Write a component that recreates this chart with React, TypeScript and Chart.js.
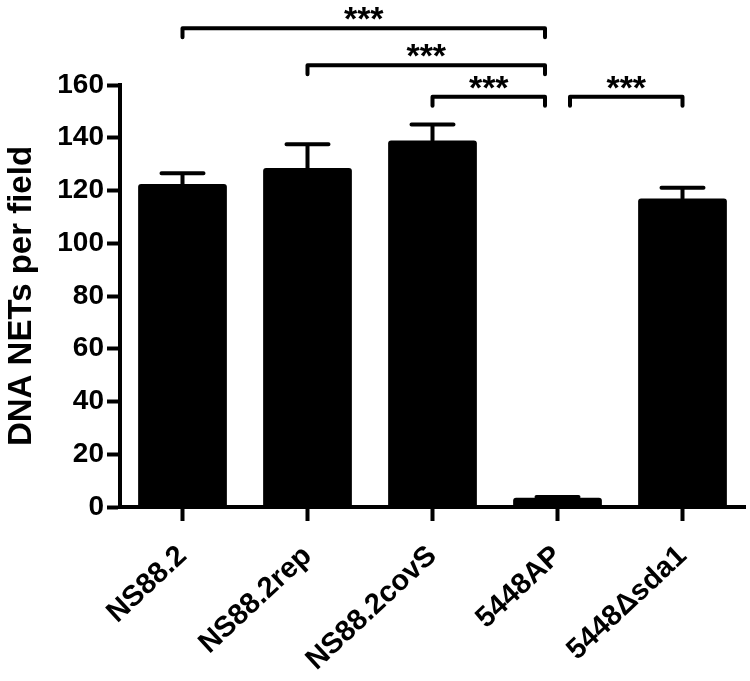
import React, { useEffect, useRef } from "react";
import { Chart, registerables } from "chart.js";

Chart.register(...registerables);

// ---- data ----
const categories = ["NS88.2", "NS88.2rep", "NS88.2covS", "5448AP", "5448\u0394sda1"];
const means = [122.5, 128.5, 139, 3.5, 117];
const errors = [4, 9, 6, 0.3, 4];
const yMin = 0;
const yMax = 160;
const yStep = 20;
const yTitle = "DNA NETs per field";

// significance brackets (category index from -> to, level in y units)
const bracketFrom = [0, 1, 2, 3];
const bracketTo = [3, 3, 3, 4];
const bracketLevel = [181.5, 167.5, 155.5, 155.5];
const bracketLabels = ["***", "***", "***", "***"];
const referenceGroup = 3; // comparison group (5448AP)

const FONT = "'Liberation Sans', Arial, Helvetica, sans-serif";

const errorBarPlugin = {
  id: "errorBars",
  afterDatasetsDraw(chart: any) {
    const ctx = chart.ctx;
    const meta = chart.getDatasetMeta(0);
    const yScale = chart.scales.y;
    ctx.save();
    ctx.strokeStyle = "#000";
    ctx.lineWidth = 4;
    ctx.lineCap = "round";
    meta.data.forEach((el: any, i: number) => {
      const x = el.x;
      const yBar = yScale.getPixelForValue(means[i]);
      const yTop = yScale.getPixelForValue(means[i] + errors[i]);
      ctx.beginPath();
      ctx.moveTo(x, yBar);
      ctx.lineTo(x, yTop);
      ctx.moveTo(x - 21, yTop);
      ctx.lineTo(x + 21, yTop);
      ctx.stroke();
    });
    ctx.restore();
  },
};

const bracketPlugin = {
  id: "brackets",
  afterDraw(chart: any) {
    const ctx = chart.ctx;
    const xScale = chart.scales.x;
    const yScale = chart.scales.y;
    const slot = xScale.getPixelForValue(1) - xScale.getPixelForValue(0);
    const inset = slot * 0.1;
    ctx.save();
    ctx.strokeStyle = "#000";
    ctx.fillStyle = "#000";
    ctx.lineWidth = 4;
    ctx.lineJoin = "round";
    ctx.lineCap = "round";
    for (let i = 0; i < bracketFrom.length; i++) {
      let x1 = xScale.getPixelForValue(bracketFrom[i]);
      let x2 = xScale.getPixelForValue(bracketTo[i]);
      if (bracketFrom[i] === referenceGroup) x1 += inset;
      if (bracketTo[i] === referenceGroup) x2 -= inset;
      const y = yScale.getPixelForValue(bracketLevel[i]);
      ctx.beginPath();
      ctx.moveTo(x1, y + 9);
      ctx.lineTo(x1, y);
      ctx.lineTo(x2, y);
      ctx.lineTo(x2, y + 9);
      ctx.stroke();
      ctx.font = `bold 34px ${FONT}`;
      ctx.textAlign = "center";
      ctx.textBaseline = "alphabetic";
      ctx.fillText(bracketLabels[i], (x1 + x2) / 2, y + 2);
    }
    ctx.restore();
  },
};

export default function App() {
  const ref = useRef<HTMLCanvasElement | null>(null);
  useEffect(() => {
    if (!ref.current) return;
    Chart.defaults.font.family = FONT;
    Chart.defaults.color = "#000";
    const chart = new Chart(ref.current, {
      type: "bar",
      data: {
        labels: categories,
        datasets: [
          {
            data: means,
            backgroundColor: "#000",
            borderWidth: 0,
            borderRadius: 3,
            borderSkipped: "bottom",
            barPercentage: 0.71,
            categoryPercentage: 1,
          },
        ],
      },
      options: {
        animation: false,
        responsive: false,
        maintainAspectRatio: false,
        layout: { padding: { top: 85, right: 5, left: 0, bottom: 0 } },
        plugins: {
          legend: { display: false },
          tooltip: { enabled: false },
        },
        scales: {
          x: {
            offset: true,
            grid: {
              offset: false,
              drawOnChartArea: false,
              drawTicks: true,
              tickLength: 14,
              tickWidth: 4,
              color: "#000",
            },
            border: { display: true, width: 4, color: "#000" },
            ticks: {
              minRotation: 43,
              maxRotation: 43,
              padding: 18,
              font: { size: 29, weight: "bold" },
              color: "#000",
            },
            afterFit(scale: any) {
              scale.height = 681 - 507;
            },
          },
          y: {
            min: yMin,
            max: yMax,
            grid: {
              drawOnChartArea: false,
              drawTicks: true,
              tickLength: 13,
              tickWidth: 4,
              color: "#000",
            },
            border: { display: true, width: 4, color: "#000" },
            ticks: {
              stepSize: yStep,
              padding: 3,
              font: { size: 28, weight: "bold" },
              color: "#000",
            },
            title: {
              display: true,
              text: yTitle,
              font: { size: 33, weight: "bold" },
              color: "#000",
              padding: { top: 2, bottom: 0 },
            },
            afterFit(scale: any) {
              scale.width = 120;
            },
          },
        },
      } as any,
      plugins: [errorBarPlugin, bracketPlugin],
    });
    return () => chart.destroy();
  }, []);
  return (
    <div style={{ position: "fixed", left: 0, top: 0, width: 750, height: 681, background: "#fff" }}>
      <canvas ref={ref} width={750} height={681} style={{ width: 750, height: 681 }} />
    </div>
  );
}
